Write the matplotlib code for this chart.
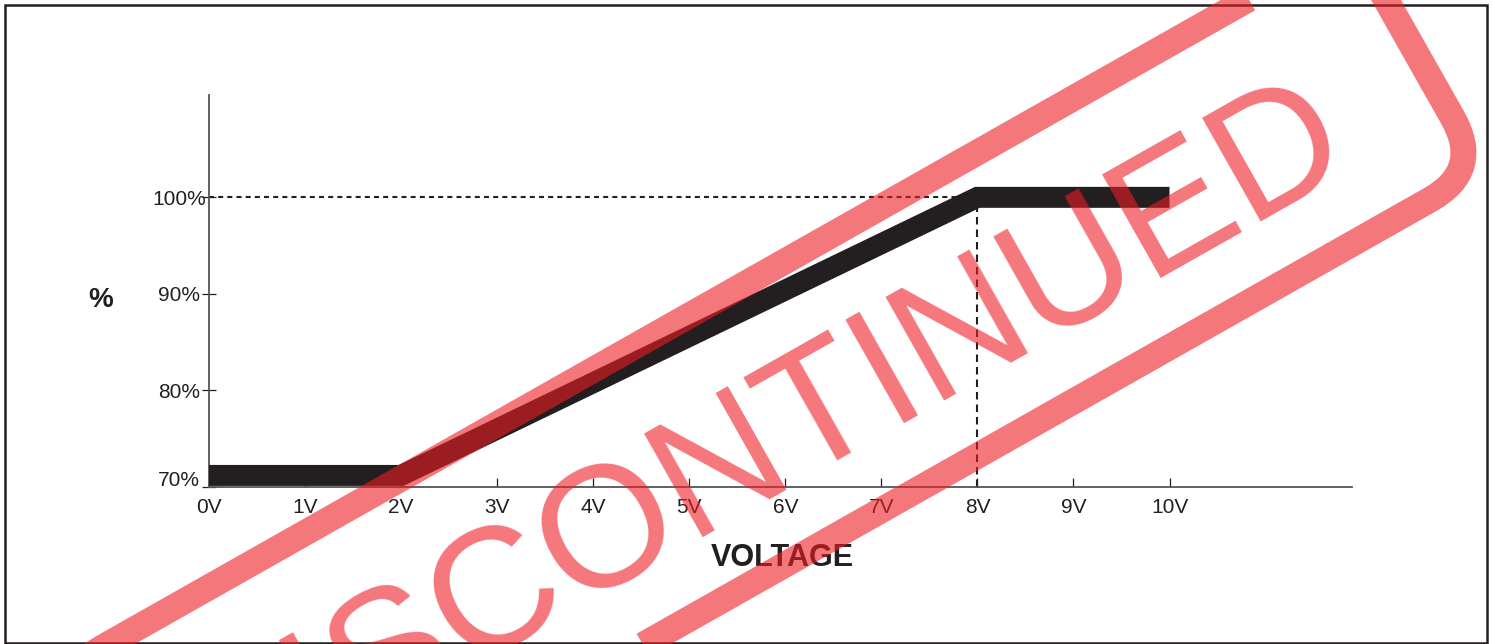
import matplotlib
matplotlib.use('Agg')
from matplotlib import pyplot as plt
from matplotlib.patches import FancyBboxPatch, Rectangle
from matplotlib.transforms import Affine2D, ScaledTranslation

# Data
voltage = [0, 2, 8, 10]
output_pct = [71.2, 71.2, 100, 100]
x_ticks = [0, 1, 2, 3, 4, 5, 6, 7, 8, 9, 10]
x_tick_labels = ['%dV' % v for v in x_ticks]
y_ticks = [70, 80, 90, 100]
y_tick_labels = ['%d%%' % v for v in y_ticks]
full_scale_v = 8
full_scale_pct = 100

W, H = 1492, 644
ink = '#231f20'
stamp_red = (237 / 255, 28 / 255, 36 / 255)

plt.rcParams['font.family'] = ['Liberation Sans', 'DejaVu Sans']

fig = plt.figure(figsize=(W / 100, H / 100), dpi=100)
ax = fig.add_axes([209 / W, (H - 487) / H, (1352 - 209) / W, (487 - 95) / H])

# reference lines to the full scale point
ax.plot([0, full_scale_v], [full_scale_pct, full_scale_pct], color=ink,
        lw=1.5, linestyle=(0, (2.4, 2.0)), zorder=1)
ax.plot([full_scale_v, full_scale_v], [70, full_scale_pct], color=ink,
        lw=1.5, linestyle=(0, (3.6, 2.4)), zorder=1)

# the response curve
ax.plot(voltage, output_pct, color=ink, lw=15.1,
        solid_joinstyle='miter', solid_capstyle='butt', zorder=3)

ax.set_xlim(0, 11.9)
ax.set_ylim(70, 110.6)
ax.set_xticks(x_ticks)
ax.set_xticklabels(x_tick_labels)
ax.set_yticks(y_ticks)
ax.set_yticklabels(y_tick_labels)

for side in ['top', 'right']:
    ax.spines[side].set_visible(False)
for side in ['left', 'bottom']:
    ax.spines[side].set_color('#555555')
    ax.spines[side].set_linewidth(1.3)

ax.tick_params(axis='x', direction='in', length=6.5, width=0.9, color=ink,
               labelsize=15, labelcolor=ink, pad=8)
ax.tick_params(axis='y', direction='inout', length=9.5, width=0.9, color=ink,
               labelsize=15, labelcolor=ink, pad=2)

# 70% label sits a little above the axis line, 100% a little to the right
ylbls = ax.get_yticklabels()
ylbls[0].set_transform(ylbls[0].get_transform()
                       + ScaledTranslation(0, 9 / 100, fig.dpi_scale_trans))
ylbls[-1].set_transform(ylbls[-1].get_transform()
                        + ScaledTranslation(6 / 100, 0, fig.dpi_scale_trans))

ax.set_xlabel('VOLTAGE', fontsize=22, fontweight='bold', color=ink, va='center')
ax.xaxis.set_label_coords((782 - 209) / 1143, (487 - 558) / 392)
ax.set_ylabel('%', fontsize=20, fontweight='bold', color=ink, rotation=0,
              va='center', ha='center')
ax.yaxis.set_label_coords((101 - 209) / 1143, (487 - 300) / 392)

# outer frame
fig.patches.append(Rectangle((5 / W, 1 / H), (1487 - 5) / W, (643 - 5) / H,
                             transform=fig.transFigure, fill=False,
                             edgecolor=ink, lw=1.8, zorder=5))

# DISCONTINUED stamp
angle = 29.5
cx, cy = 755, 430
tr = (Affine2D().rotate_deg(angle).translate(cx, H - cy).scale(1 / W, 1 / H)
      + fig.transFigure)
fig.patches.append(FancyBboxPatch((-761, -132), 1522, 264,
                                  boxstyle='round,pad=0,rounding_size=60',
                                  transform=tr, fill=False, edgecolor=stamp_red,
                                  lw=18.7, alpha=0.6, zorder=10))
fig.text(785 / W, (H - 482) / H, 'DISCONTINUED', rotation=angle,
         rotation_mode='anchor', ha='center', va='baseline',
         fontsize=124, color=stamp_red, alpha=0.6, zorder=10)

fig.savefig('out.png', dpi=100)
